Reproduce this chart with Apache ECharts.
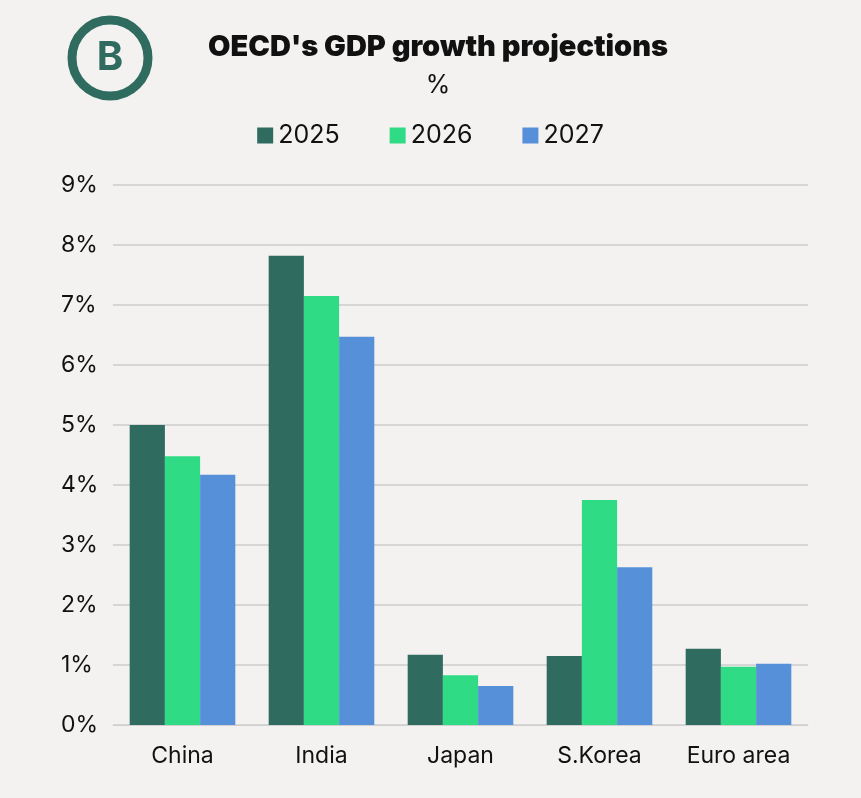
<!DOCTYPE html>
<html><head><meta charset="utf-8">
<script src="https://cdn.jsdelivr.net/npm/echarts@6/dist/echarts.min.js"></script>
<style>html,body{margin:0;padding:0;background:#f3f2f0;}#c{width:861px;height:798px;}</style>
</head><body><div id="c"></div>
<script>
const categories = ['China','India','Japan','S.Korea','Euro area'];
const years = ['2025','2026','2027'];
const v2025 = [5.0, 7.82, 1.17, 1.15, 1.27];
const v2026 = [4.48, 7.15, 0.83, 3.75, 0.97];
const v2027 = [4.17, 6.47, 0.65, 2.63, 1.02];
const colors = ['#2f6b5f','#30db85','#5590d8'];
const chart = echarts.init(document.getElementById('c'));
const font = 'Inter, "Noto Sans", sans-serif';
chart.setOption({
  backgroundColor:'#f3f2f0',
  textStyle:{fontFamily:font},
  title:[{text:"OECD's GDP growth projections",left:433,top:28,textAlign:'center',
    textStyle:{fontSize:29,fontWeight:900,color:'#111',fontFamily:font}},
    {text:'%',left:433,top:68,textAlign:'center',textStyle:{fontSize:25,fontWeight:'normal',color:'#111',fontFamily:font}}],
  graphic:[
    {type:'circle',shape:{cx:110,cy:58,r:38},style:{fill:'none',stroke:'#2f6b5f',lineWidth:9}},
    {type:'text',style:{text:'B',x:110,y:58,align:'center',verticalAlign:'middle',fontSize:40,fontWeight:'bold',fill:'#2f6b5f',fontFamily:font}}
  ],
  legend:{top:118,left:'center',itemWidth:16,itemHeight:16,itemGap:50,icon:'rect',
    textStyle:{fontSize:25,color:'#111'},data:years},
  grid:{left:113,right:53,top:185,bottom:73},
  xAxis:{type:'category',data:categories,axisTick:{show:false},
    axisLine:{lineStyle:{color:'#d0d0d0'}},axisLabel:{interval:0,fontSize:23,color:'#111',margin:20}},
  yAxis:{type:'value',min:0,max:9,interval:1,
    axisLabel:{formatter:'{value}%',fontSize:23,color:'#111',margin:52,align:'left'},
    splitLine:{lineStyle:{color:'#d6d6d6',width:2}}},
  series:[v2025,v2026,v2027].map((d,i)=>({name:years[i],type:'bar',data:d,
    itemStyle:{color:colors[i]},barGap:'0%',barCategoryGap:'24%'}))
});
</script></body></html>
